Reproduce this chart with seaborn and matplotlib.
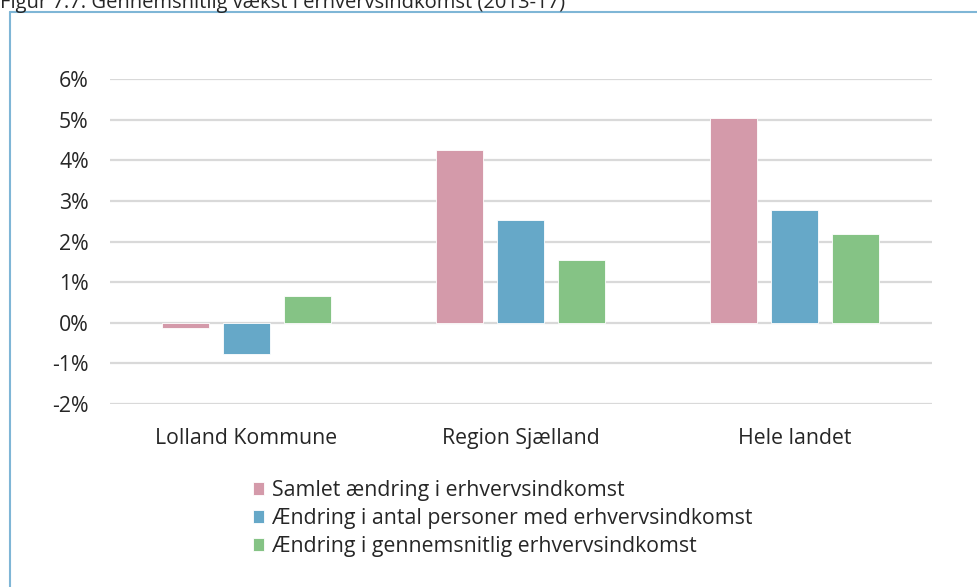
import matplotlib
matplotlib.use("Agg")
import matplotlib.pyplot as plt
import seaborn as sns
import pandas as pd
from matplotlib.lines import Line2D
from matplotlib.patches import Patch
from matplotlib.ticker import FuncFormatter

categories = ["Lolland Kommune", "Region Sjælland", "Hele landet"]
series = [
    "Samlet ændring i erhvervsindkomst",
    "Ændring i antal personer med erhvervsindkomst",
    "Ændring i gennemsnitlig erhvervsindkomst",
]
samlet = [-0.12, 4.26, 5.03]
antal = [-0.77, 2.53, 2.78]
gennemsnit = [0.65, 1.55, 2.19]
colors = ["#D49AAA", "#66A8C8", "#85C385"]

df = pd.DataFrame({
    "kategori": categories * 3,
    "serie": [series[0]] * 3 + [series[1]] * 3 + [series[2]] * 3,
    "vaerdi": samlet + antal + gennemsnit,
})

sns.set_style("white")
plt.rcParams["font.family"] = ["Open Sans", "DejaVu Sans"]
txt = "#262626"
fs = 15.3

fig = plt.figure(figsize=(9.77, 5.87), dpi=100)
ax = fig.add_axes([109.5 / 977, 1 - 404 / 587, (931.5 - 109.5) / 977, (404 - 79) / 587])

sns.barplot(data=df, x="kategori", y="vaerdi", hue="serie", order=categories,
            hue_order=series, palette=colors, saturation=1, width=0.668, gap=0.23,
            edgecolor="white", linewidth=0.6, legend=False, ax=ax, zorder=3)

ax.set_ylim(-2, 6)
ax.set_xlim(-0.5, 2.5)
ax.set_yticks(range(-2, 7))
ax.yaxis.set_major_formatter(FuncFormatter(lambda v, p: f"{int(v)}%"))
ax.grid(axis="y", color="#D9D9D9", linewidth=1.6, zorder=0)
ax.set_axisbelow(True)
for s in ax.spines.values():
    s.set_visible(False)
ax.set_xlabel("")
ax.set_ylabel("")
ax.tick_params(axis="y", length=0, pad=15, labelsize=fs, labelcolor=txt)
ax.tick_params(axis="x", length=0, pad=17, labelsize=fs, labelcolor=txt)

handles = [Patch(facecolor=c, edgecolor="white", linewidth=0.6) for c in colors]
fig.legend(handles, series, loc="upper left", bbox_to_anchor=(242 / 977, 1 - 469 / 587),
           frameon=False, fontsize=fs, handlelength=0.55, handleheight=0.55,
           handletextpad=0.35, labelspacing=0.34, borderpad=0, labelcolor=txt)

# ramme rundt om figuren
frame_col = "#7FB6D6"
fig.add_artist(Line2D([10 / 977, 1], [1 - 12 / 587] * 2, color=frame_col, lw=1.5))
fig.add_artist(Line2D([10 / 977] * 2, [0, 1 - 12 / 587], color=frame_col, lw=1.5))

fig.text(0, 1 - 3 / 587, "Figur 7.7: Gennemsnitlig vækst i erhvervsindkomst (2013-17)",
         fontsize=14.5, color=txt, ha="left", va="center")

fig.savefig("out.png", dpi=100)
